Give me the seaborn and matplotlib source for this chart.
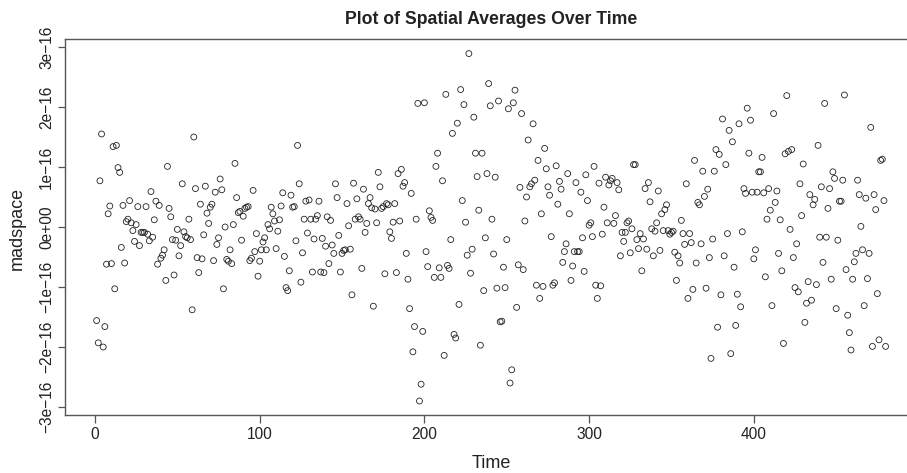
import numpy as np
import pandas as pd
import seaborn as sns
import matplotlib.pyplot as plt

# madspace values, in units of 1e-16 (time = 1..480)
madspace_e16 = [
    -1.56, -1.93, 0.77, 1.55, -2.00, -1.66, -0.62, 0.22, 0.35, -0.61,
    1.34, -1.03, 1.36, 0.99, 0.91, -0.34, 0.36, -0.60, 0.09, 0.13,
    0.44, 0.07, -0.06, -0.24, 0.04, 0.34, -0.31, -0.09, -0.09, -0.09,
    0.34, -0.12, -0.23, 0.59, -0.17, 0.12, 0.43, -0.62, 0.36, -0.52,
    -0.47, -0.38, -0.89, 1.01, 0.31, 0.17, -0.21, -0.80, -0.22, -0.04,
    -0.48, -0.31, 0.72, -0.08, -0.16, -0.18, 0.13, -0.21, -1.38, 1.50,
    0.64, -0.51, -0.76, 0.38, -0.53, -0.13, 0.68, 0.23, 0.06, 0.33,
    0.38, -0.56, 0.58, -0.29, -0.18, 0.80, 0.62, -1.03, 0.00, -0.54,
    -0.57, -0.38, -0.61, 0.04, 1.06, 0.49, 0.24, 0.26, -0.22, 0.18,
    0.31, 0.33, 0.34, -0.56, -0.52, 0.61, -0.41, -0.11, -0.82, -0.57,
    -0.38, -0.25, -0.18, -0.38, 0.04, -0.03, 0.33, 0.22, 0.10, -0.36,
    -0.07, 0.12, 0.35, 0.57, -0.49, -1.01, -1.06, -0.73, 0.53, 0.33,
    0.34, -0.23, 1.36, 0.72, -0.92, -0.43, 0.13, 0.43, -0.10, 0.45,
    0.13, -0.75, -0.20, 0.13, 0.19, 0.43, -0.75, -0.19, -0.76, -0.32,
    0.17, -0.61, 0.11, -0.30, -0.44, 0.72, 0.49, -0.14, -0.75, -0.44,
    -0.39, -0.38, 0.39, 0.02, -0.37, -1.13, 0.73, 0.13, 0.47, 0.17,
    0.13, -0.69, 0.63, -0.09, 0.06, 0.39, 0.49, 0.32, -1.32, 0.30,
    0.07, 0.91, 0.67, 0.31, 0.34, -0.78, 0.39, 0.37, -0.08, -0.19,
    0.08, 0.39, -0.76, 0.89, 0.10, 0.96, 0.68, 0.74, -0.44, -0.87,
    -1.36, 0.56, -2.08, -1.66, 0.13, 2.06, -2.90, -2.62, -1.74, 2.07,
    -0.41, -0.66, 0.27, 0.16, 0.11, -0.84, 1.01, 1.23, -0.68, -0.84,
    0.77, -2.14, 2.21, -0.64, -0.69, -0.21, 1.56, -1.79, -1.85, 1.73,
    -1.29, 2.29, 0.44, 2.04, 0.08, -0.47, 2.89, -0.77, -0.37, 1.83,
    1.23, 0.84, 0.28, -1.97, 1.23, -1.06, -0.18, 0.89, 2.39, 2.02,
    0.13, -0.45, 0.83, -1.02, 2.10, -1.58, -1.57, -0.67, -1.01, -0.21,
    1.97, -2.60, -2.38, 2.07, 2.28, -1.34, -0.63, 0.66, 1.89, -0.71,
    0.10, 0.50, 1.45, 0.67, 0.72, 1.72, 0.78, -0.97, 1.11, -1.19,
    0.22, -0.99, 1.31, 0.97, 0.67, 0.53, -0.16, -0.97, -0.93, 1.02,
    0.38, 0.76, 0.63, -0.59, -0.41, -0.28, 0.89, 0.22, -0.89, -0.65,
    -0.41, 0.74, -0.41, -0.41, 0.58, -0.18, -0.74, 0.87, 0.44, 0.03,
    0.07, -0.16, 1.01, -0.97, -1.19, 0.73, -0.98, -0.12, 0.33, 0.83,
    0.07, 0.70, 0.77, 0.81, 0.06, 0.19, 0.74, 0.62, -0.48, -0.09,
    -0.24, -0.09, 0.07, 0.10, -0.43, -0.03, 1.04, 1.04, -0.21, -0.36,
    -0.11, -0.73, -0.20, 0.64, -0.37, 0.74, 0.42, -0.03, -0.48, -0.07,
    0.07, 0.60, -0.39, 0.22, -0.06, 0.29, 0.37, -0.06, -0.12, -0.09,
    -0.07, -0.42, -0.89, -0.48, -0.60, 0.11, -0.11, -0.29, 0.72, -1.19,
    -0.11, -0.26, -1.04, 1.11, -0.60, 0.41, 0.37, -0.28, 0.93, 0.51,
    -1.02, 0.63, -0.51, -2.19, -0.20, 0.93, 1.29, -1.67, 1.21, -1.13,
    1.80, -0.48, 1.04, -0.11, 1.61, -2.11, 1.42, -0.67, -1.64, -1.12,
    1.72, -1.33, -0.08, 0.64, 0.56, 1.98, 1.23, 1.78, 0.58, -0.53,
    -0.38, 0.58, 0.92, 0.92, 1.16, 0.57, -0.83, 0.13, 0.64, 0.28,
    -1.31, 1.89, 0.41, 0.60, -0.44, 0.12, -0.73, -1.94, 1.22, 2.19,
    1.26, -0.04, 1.29, -0.51, -1.01, -0.28, -1.08, 0.72, 0.19, 1.05,
    -1.59, -1.27, -0.91, 0.54, -1.22, 0.37, 0.46, -0.96, 1.36, -0.17,
    0.67, -0.59, 2.06, -0.17, 0.31, 0.64, -0.87, 0.92, 0.81, -1.36,
    -0.22, 0.43, 0.43, 0.78, 2.20, -0.71, -1.47, -1.76, -2.05, -0.87,
    -0.58, -0.44, 0.78, 0.54, 0.01, -0.38, -1.31, 0.48, -0.86, -0.44,
    1.66, -1.99, 0.54, 0.29, -1.11, -1.88, 1.11, 1.13, 0.44, -1.99,
]

x_ticks = [0, 100, 200, 300, 400]
y_ticks = [-3e-16, -2e-16, -1e-16, 0, 1e-16, 2e-16, 3e-16]
y_tick_labels = ["\u22123e\u221216", "\u22122e\u221216", "\u22121e\u221216", "0e+00",
                 "1e\u221216", "2e\u221216", "3e\u221216"]

df = pd.DataFrame({"madspace": np.array(madspace_e16) * 1e-16})
df["Time"] = np.arange(1, len(df) + 1)

sns.set_style("ticks")
plt.rcParams["font.family"] = ["Liberation Sans", "DejaVu Sans"]

axis_col = "#555555"
fig = plt.figure(figsize=(9.07, 4.73), dpi=100)
ax = fig.add_axes([65 / 907, 58 / 473, 842 / 907, 376 / 473])

sns.scatterplot(data=df, x="Time", y="madspace", ax=ax, s=18,
                color="#222222", linewidth=0.6)
pts = ax.collections[0]
pts.set_facecolor("none")
pts.set_edgecolor("#222222")

ax.set_xlim(-18.2, 493.0)
ax.set_ylim(-3.133e-16, 3.133e-16)

ax.set_xticks(x_ticks)
ax.set_xticklabels([str(t) for t in x_ticks])
ax.set_yticks(y_ticks)
ax.set_yticklabels(y_tick_labels, rotation=90, va="center")
ax.tick_params(axis="both", direction="out", length=5.4, width=0.9,
               color=axis_col, labelsize=11.2, labelcolor="#222222")
ax.tick_params(axis="x", pad=3.5)
ax.tick_params(axis="y", pad=2.5)

for side in ["left", "bottom", "top"]:
    ax.spines[side].set_color(axis_col)
    ax.spines[side].set_linewidth(1.0)
ax.spines["right"].set_visible(False)

ax.set_xlabel("Time", fontsize=13, color="#222222")
ax.set_ylabel("madspace", fontsize=13, color="#222222")
ax.xaxis.set_label_coords(0.506, -0.128)
ax.xaxis.label.set_va("center")
ax.yaxis.set_label_coords(-0.057, 0.497)
ax.yaxis.label.set_va("center")

fig.text(491 / 907, 1 - 20 / 473, "Plot of Spatial Averages Over Time",
         ha="center", va="center", fontsize=12.7, fontweight="bold",
         color="#222222")

fig.savefig("out.png", dpi=100)
